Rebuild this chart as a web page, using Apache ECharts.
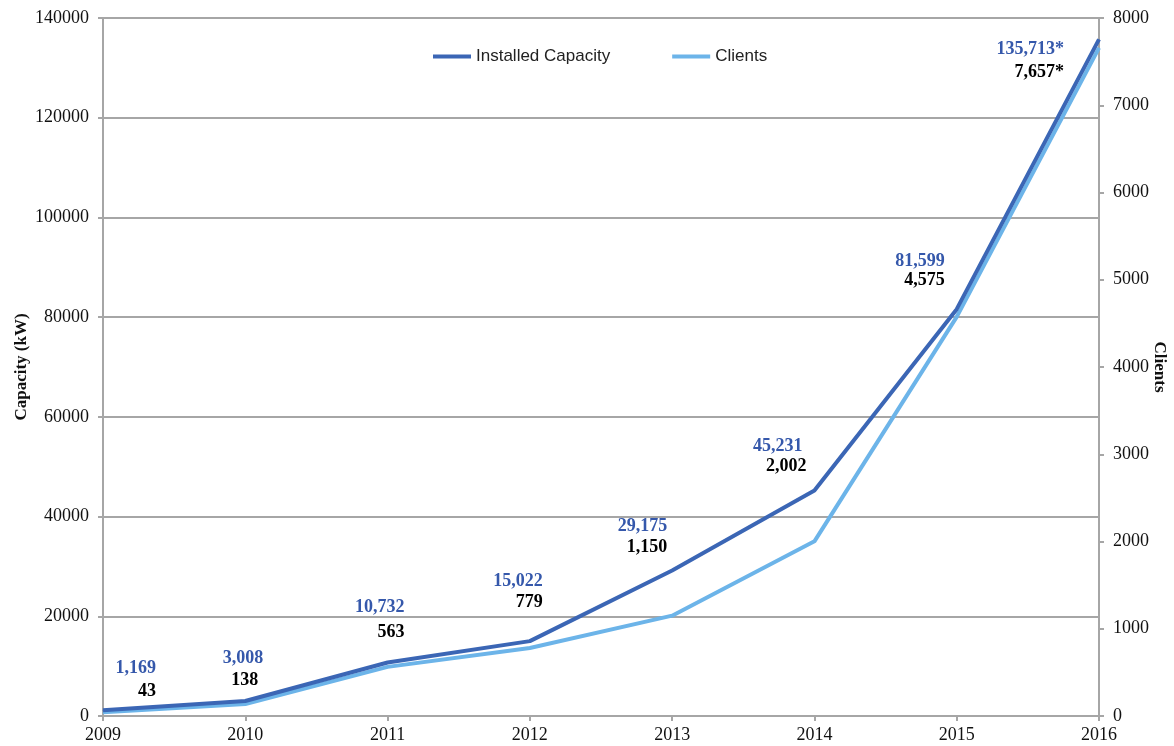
<!DOCTYPE html>
<html>
<head>
<meta charset="utf-8">
<script src="https://cdn.jsdelivr.net/npm/echarts@6/dist/echarts.min.js"></script>
<style>
html,body{margin:0;padding:0;background:#fff;}
#chart{width:1174px;height:746px;}
</style>
</head>
<body>
<div id="chart"></div>
<script>
// ---- data ----
const years = ['2009','2010','2011','2012','2013','2014','2015','2016'];
const capacity = [1169, 3008, 10732, 15022, 29175, 45231, 81599, 135713];
const clients = [43, 138, 563, 779, 1150, 2002, 4575, 7657];
const labelSuffix = ['', '', '', '', '', '', '', '*'];
const seriesNames = ['Installed Capacity', 'Clients'];

// ---- layout of the value labels (pixel offsets from each point, right-aligned) ----
const capLabelOffsets = [[53,-42],[18,-43],[17,-55],[13,-60],[-5,-44],[-12,-44],[-12,-48],[-35,10]];
const cliLabelOffsets = [[53,-21],[13,-24],[17,-35],[13,-46],[-5,-68],[-8,-75],[-12,-36],[-35,24]];

const darkBlue = '#3b66b5';
const lightBlue = '#6cb4e9';
const labelBlue = '#3558ab';
const gridGray = '#a6a6a6';
const serif = '"Liberation Serif", "Times New Roman", serif';
const sans = '"Liberation Sans", Arial, sans-serif';

function fmt(v, i) {
  return v.toLocaleString('en-US') + labelSuffix[i];
}

function labelPoints(values, offsets, color) {
  return values.map((v, i) => ({
    value: v,
    label: {
      show: true,
      position: 'inside',
      align: 'right',
      verticalAlign: 'middle',
      offset: offsets[i],
      formatter: () => fmt(v, i),
      color: color,
      opacity: 1,
      textBorderWidth: 0,
      fontFamily: serif,
      fontWeight: 'bold',
      fontSize: 18
    }
  }));
}

const chart = echarts.init(document.getElementById('chart'), null, {renderer: 'canvas'});
chart.setOption({
  animation: false,
  backgroundColor: '#fff',
  grid: {left: 103, right: 75, top: 18, bottom: 30, containLabel: false, outerBoundsMode: 'none'},
  legend: {
    data: seriesNames,
    left: 428,
    top: 43,
    icon: 'rect',
    itemWidth: 38,
    itemHeight: 4,
    itemGap: 62,
    textStyle: {fontFamily: sans, fontSize: 17, color: '#222'}
  },
  xAxis: {
    type: 'category',
    data: years,
    boundaryGap: false,
    axisLine: {lineStyle: {color: gridGray, width: 2}},
    axisTick: {show: true, length: 5, lineStyle: {color: gridGray, width: 2}},
    axisLabel: {fontFamily: serif, fontSize: 18, color: '#111', margin: 10}
  },
  yAxis: [
    {
      type: 'value',
      min: 0, max: 140000, interval: 20000,
      name: 'Capacity (kW)',
      nameLocation: 'middle',
      nameGap: 73,
      nameMoveOverlap: false,
      nameTextStyle: {fontFamily: serif, fontWeight: 'bold', fontSize: 17, color: '#111'},
      axisLine: {show: true, lineStyle: {color: gridGray, width: 2}},
      axisTick: {show: true, length: 5, lineStyle: {color: gridGray, width: 2}},
      axisLabel: {fontFamily: serif, fontSize: 18, color: '#111', margin: 14, formatter: v => String(v)},
      splitLine: {show: true, lineStyle: {color: gridGray, width: 2}}
    },
    {
      type: 'value',
      min: 0, max: 8000, interval: 1000,
      name: 'Clients',
      nameLocation: 'middle',
      nameGap: 52,
      nameMoveOverlap: false,
      nameRotate: -90,
      nameTextStyle: {fontFamily: serif, fontWeight: 'bold', fontSize: 17, color: '#111'},
      axisLine: {show: true, lineStyle: {color: gridGray, width: 2}},
      axisTick: {show: true, length: 5, lineStyle: {color: gridGray, width: 2}},
      axisLabel: {fontFamily: serif, fontSize: 18, color: '#111', margin: 14, formatter: v => String(v)},
      splitLine: {show: false}
    }
  ],
  series: [
    {
      name: 'capLabels',
      type: 'scatter',
      yAxisIndex: 0,
      symbolSize: 1,
      itemStyle: {color: darkBlue},
      silent: true,
      data: labelPoints(capacity, capLabelOffsets, labelBlue),
      z: 1
    },
    {
      name: 'cliLabels',
      type: 'scatter',
      yAxisIndex: 1,
      symbolSize: 1,
      itemStyle: {color: lightBlue},
      silent: true,
      data: labelPoints(clients, cliLabelOffsets, '#000'),
      z: 1
    },
    {
      name: seriesNames[1],
      type: 'line',
      yAxisIndex: 1,
      data: clients,
      showSymbol: false,
      color: lightBlue,
      lineStyle: {color: lightBlue, width: 4},
      z: 2
    },
    {
      name: seriesNames[0],
      type: 'line',
      yAxisIndex: 0,
      data: capacity,
      showSymbol: false,
      color: darkBlue,
      lineStyle: {color: darkBlue, width: 4},
      z: 3
    }
  ]
});
</script>
</body>
</html>
